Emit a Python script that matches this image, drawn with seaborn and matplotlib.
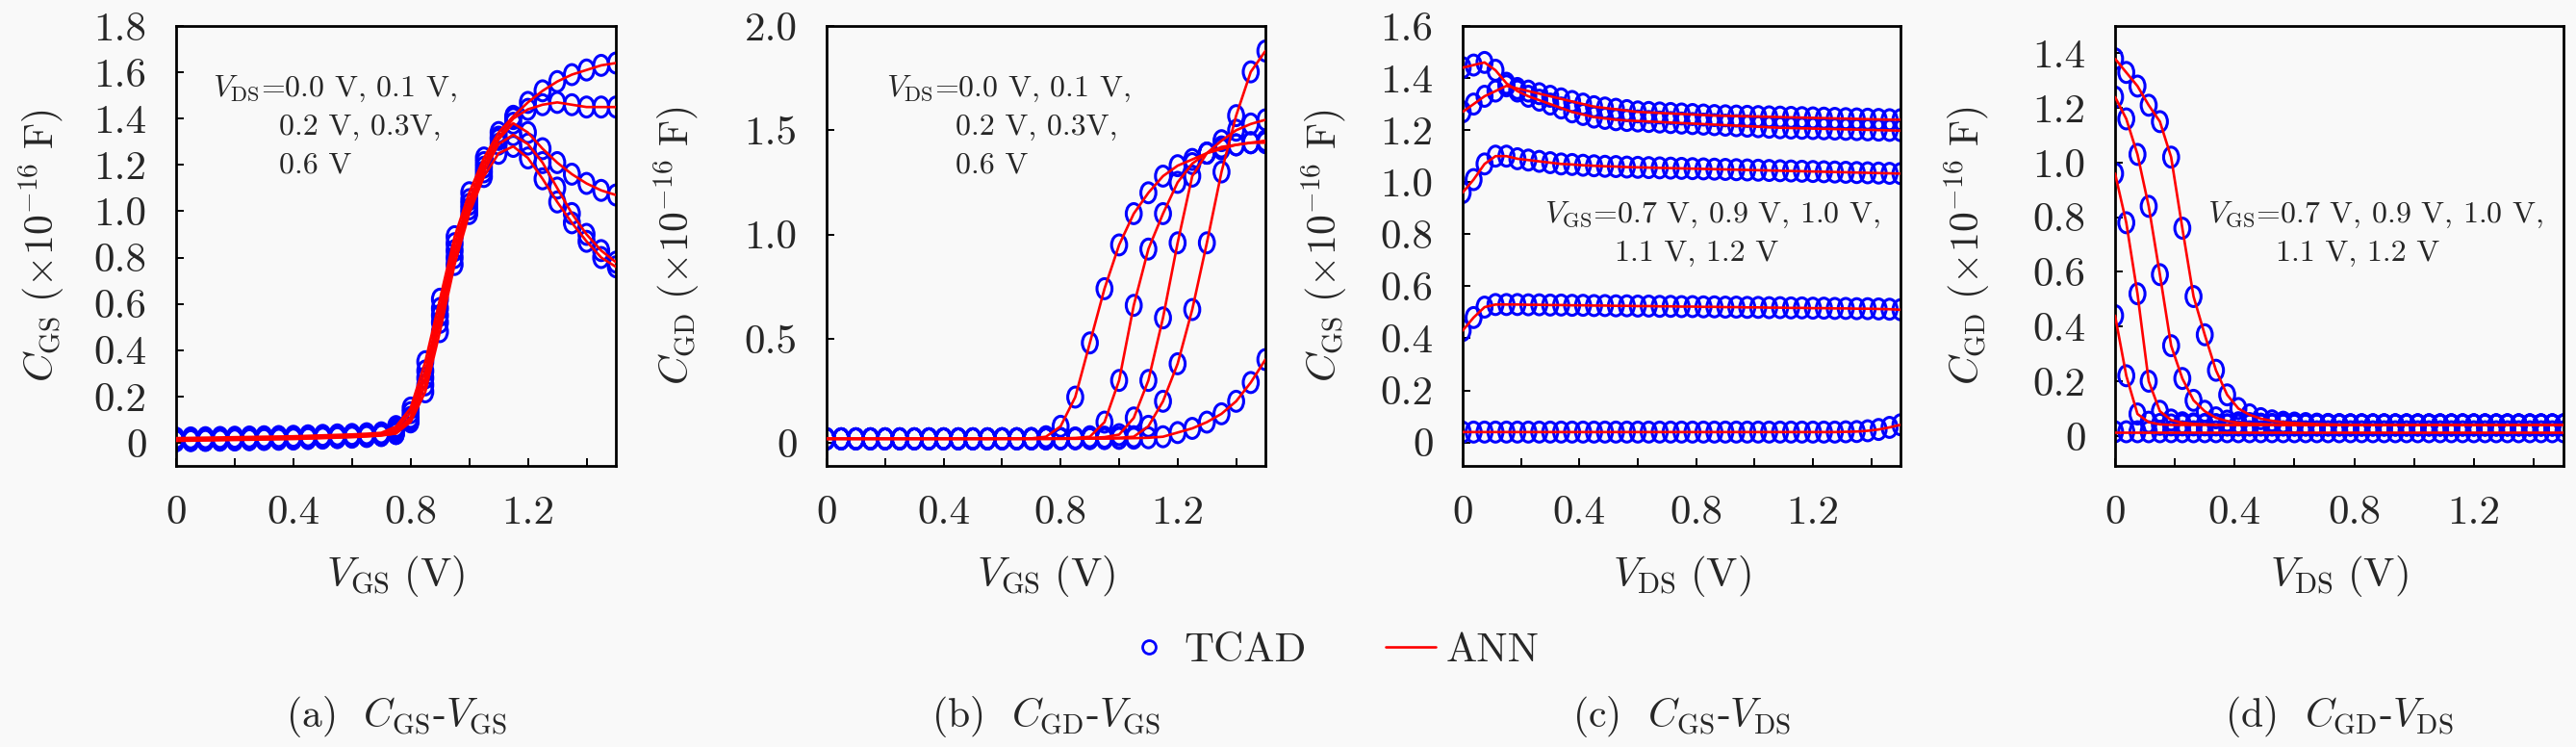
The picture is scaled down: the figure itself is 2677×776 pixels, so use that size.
import numpy as np
import pandas as pd
import seaborn as sns
import matplotlib.pyplot as plt
from matplotlib.path import Path
from matplotlib.lines import Line2D

sns.set_theme(style="white")
plt.rcParams["font.family"] = "serif"
plt.rcParams["font.serif"] = ["cmr10", "DejaVu Serif"]
plt.rcParams["mathtext.fontset"] = "cm"
plt.rcParams["axes.formatter.use_mathtext"] = True

# ---------------- data ----------------
# (a) C_GS vs V_GS, one curve per V_DS
vgs_ab = [0.0, 0.05, 0.1, 0.15, 0.2, 0.25, 0.3, 0.35, 0.4, 0.45, 0.5, 0.55, 0.6, 0.65, 0.7,
          0.75, 0.8, 0.85, 0.9, 0.95, 1.0, 1.05, 1.1, 1.15, 1.2, 1.25, 1.3, 1.35, 1.4, 1.45, 1.5]
vds_labels = ["0.0", "0.1", "0.2", "0.3", "0.6"]
cgs_a_00 = [0.020, 0.021, 0.022, 0.023, 0.024, 0.025, 0.026, 0.027, 0.028, 0.030, 0.032, 0.034, 0.036, 0.039, 0.043,
            0.07, 0.15, 0.35, 0.62, 0.89, 1.08, 1.23, 1.34, 1.41, 1.47, 1.52, 1.56, 1.59, 1.61, 1.63, 1.64]
cgs_a_01 = [0.015, 0.016, 0.017, 0.018, 0.019, 0.020, 0.021, 0.022, 0.023, 0.025, 0.027, 0.029, 0.031, 0.034, 0.038,
            0.06, 0.13, 0.31, 0.58, 0.86, 1.05, 1.21, 1.32, 1.40, 1.44, 1.46, 1.47, 1.46, 1.45, 1.45, 1.45]
cgs_a_02 = [0.012, 0.013, 0.014, 0.015, 0.016, 0.017, 0.018, 0.019, 0.020, 0.022, 0.024, 0.026, 0.028, 0.031, 0.035,
            0.05, 0.11, 0.28, 0.55, 0.83, 1.03, 1.19, 1.31, 1.38, 1.34, 1.27, 1.21, 1.16, 1.12, 1.09, 1.07]
cgs_a_03 = [0.010, 0.011, 0.012, 0.013, 0.014, 0.015, 0.016, 0.017, 0.018, 0.020, 0.022, 0.024, 0.026, 0.029, 0.033,
            0.04, 0.10, 0.25, 0.52, 0.80, 1.01, 1.17, 1.29, 1.33, 1.29, 1.21, 1.10, 0.99, 0.90, 0.83, 0.78]
cgs_a_06 = [0.008, 0.009, 0.010, 0.011, 0.012, 0.013, 0.014, 0.015, 0.016, 0.018, 0.020, 0.022, 0.024, 0.027, 0.031,
            0.04, 0.09, 0.22, 0.48, 0.77, 0.99, 1.15, 1.25, 1.28, 1.23, 1.14, 1.04, 0.95, 0.87, 0.80, 0.76]

# (b) C_GD vs V_GS
cgd_b_1 = [0.020, 0.020, 0.020, 0.020, 0.020, 0.020, 0.020, 0.020, 0.020, 0.020, 0.020, 0.020, 0.021, 0.021, 0.022,
           0.03, 0.08, 0.22, 0.48, 0.74, 0.95, 1.10, 1.20, 1.28, 1.33, 1.36, 1.39, 1.41, 1.43, 1.44, 1.45]
cgd_b_2 = [0.020, 0.020, 0.020, 0.020, 0.020, 0.020, 0.020, 0.020, 0.020, 0.020, 0.020, 0.020, 0.020, 0.020, 0.020,
           0.021, 0.022, 0.024, 0.03, 0.10, 0.30, 0.66, 0.93, 1.10, 1.25, 1.34, 1.39, 1.42, 1.43, 1.44, 1.44]
cgd_b_3 = [0.020, 0.020, 0.020, 0.020, 0.020, 0.020, 0.020, 0.020, 0.020, 0.020, 0.020, 0.020, 0.020, 0.020, 0.020,
           0.020, 0.021, 0.022, 0.024, 0.028, 0.04, 0.12, 0.30, 0.60, 0.96, 1.28, 1.39, 1.45, 1.50, 1.53, 1.55]
cgd_b_4 = [0.020, 0.020, 0.020, 0.020, 0.020, 0.020, 0.020, 0.020, 0.020, 0.020, 0.020, 0.020, 0.020, 0.020, 0.020,
           0.020, 0.020, 0.021, 0.022, 0.023, 0.025, 0.03, 0.08, 0.20, 0.38, 0.64, 0.96, 1.30, 1.57, 1.78, 1.88]
cgd_b_5 = [0.020, 0.020, 0.020, 0.020, 0.020, 0.020, 0.020, 0.020, 0.020, 0.020, 0.020, 0.020, 0.020, 0.020, 0.020,
           0.020, 0.020, 0.020, 0.021, 0.021, 0.022, 0.023, 0.025, 0.03, 0.05, 0.07, 0.10, 0.14, 0.20, 0.29, 0.40]

# (c) C_GS vs V_DS, one curve per V_GS
vds_cd = [0.0, 0.0375, 0.075, 0.1125, 0.15, 0.1875, 0.225, 0.2625, 0.3, 0.3375, 0.375, 0.4125, 0.45, 0.4875,
          0.525, 0.5625, 0.6, 0.6375, 0.675, 0.7125, 0.75, 0.7875, 0.825, 0.8625, 0.9, 0.9375, 0.975, 1.0125,
          1.05, 1.0875, 1.125, 1.1625, 1.2, 1.2375, 1.275, 1.3125, 1.35, 1.3875, 1.425, 1.4625, 1.5]
vgs_labels = ["0.7", "0.9", "1.0", "1.1", "1.2"]
cgs_c_07 = [0.040, 0.040, 0.040, 0.040, 0.040, 0.040, 0.040, 0.040, 0.040, 0.040, 0.040, 0.040, 0.040, 0.040,
            0.040, 0.040, 0.040, 0.040, 0.040, 0.040, 0.040, 0.040, 0.040, 0.040, 0.040, 0.040, 0.040, 0.040,
            0.040, 0.040, 0.040, 0.040, 0.040, 0.040, 0.040, 0.041, 0.042, 0.045, 0.050, 0.058, 0.068]
cgs_c_09 = [0.43, 0.48, 0.52, 0.53, 0.530, 0.530, 0.529, 0.529, 0.528, 0.528, 0.527, 0.527, 0.526, 0.526,
            0.525, 0.525, 0.524, 0.524, 0.523, 0.523, 0.522, 0.522, 0.521, 0.521, 0.520, 0.520, 0.519, 0.519,
            0.518, 0.518, 0.517, 0.517, 0.516, 0.516, 0.515, 0.515, 0.514, 0.514, 0.513, 0.512, 0.510]
cgs_c_10 = [0.96, 1.01, 1.07, 1.10, 1.10, 1.09, 1.085, 1.08, 1.075, 1.07, 1.068, 1.065, 1.063, 1.061,
            1.060, 1.058, 1.057, 1.056, 1.055, 1.054, 1.053, 1.052, 1.051, 1.050, 1.049, 1.048, 1.047, 1.046,
            1.045, 1.044, 1.043, 1.042, 1.041, 1.040, 1.039, 1.038, 1.037, 1.036, 1.035, 1.034, 1.033]
cgs_c_11 = [1.27, 1.30, 1.33, 1.35, 1.37, 1.36, 1.35, 1.34, 1.33, 1.32, 1.31, 1.30, 1.29, 1.285,
            1.280, 1.275, 1.270, 1.268, 1.266, 1.264, 1.262, 1.260, 1.258, 1.256, 1.255, 1.254, 1.253, 1.252,
            1.251, 1.250, 1.249, 1.248, 1.247, 1.246, 1.245, 1.244, 1.243, 1.242, 1.241, 1.240, 1.240]
cgs_c_12 = [1.44, 1.45, 1.46, 1.43, 1.38, 1.35, 1.33, 1.315, 1.30, 1.285, 1.27, 1.26, 1.25, 1.245,
            1.240, 1.237, 1.235, 1.233, 1.231, 1.229, 1.227, 1.225, 1.223, 1.221, 1.219, 1.217, 1.215, 1.213,
            1.211, 1.209, 1.208, 1.207, 1.206, 1.205, 1.204, 1.203, 1.202, 1.201, 1.200, 1.199, 1.198]

# (d) C_GD vs V_DS
cgd_d_07 = [0.015, 0.015, 0.015, 0.015, 0.015, 0.015, 0.015, 0.015, 0.015, 0.015, 0.015, 0.015, 0.015, 0.015,
            0.015, 0.015, 0.015, 0.015, 0.015, 0.015, 0.015, 0.015, 0.015, 0.015, 0.015, 0.015, 0.015, 0.015,
            0.015, 0.015, 0.015, 0.015, 0.015, 0.015, 0.015, 0.015, 0.015, 0.015, 0.015, 0.015, 0.015]
cgd_d_09 = [0.44, 0.22, 0.08, 0.05, 0.042, 0.040, 0.040, 0.040, 0.040, 0.040, 0.040, 0.040, 0.040, 0.040,
            0.040, 0.040, 0.040, 0.040, 0.040, 0.040, 0.040, 0.040, 0.040, 0.040, 0.040, 0.040, 0.040, 0.040,
            0.040, 0.040, 0.040, 0.040, 0.040, 0.040, 0.040, 0.040, 0.040, 0.040, 0.040, 0.040, 0.040]
cgd_d_10 = [0.96, 0.78, 0.52, 0.20, 0.09, 0.058, 0.048, 0.044, 0.042, 0.041, 0.040, 0.040, 0.040, 0.040,
            0.040, 0.040, 0.040, 0.040, 0.040, 0.040, 0.040, 0.040, 0.040, 0.040, 0.040, 0.040, 0.040, 0.040,
            0.040, 0.040, 0.040, 0.040, 0.040, 0.040, 0.040, 0.040, 0.040, 0.040, 0.040, 0.040, 0.040]
cgd_d_11 = [1.24, 1.16, 1.03, 0.84, 0.59, 0.33, 0.21, 0.13, 0.09, 0.066, 0.054, 0.048, 0.045, 0.043,
            0.042, 0.041, 0.040, 0.040, 0.040, 0.040, 0.040, 0.040, 0.040, 0.040, 0.040, 0.040, 0.040, 0.040,
            0.040, 0.040, 0.040, 0.040, 0.040, 0.040, 0.040, 0.040, 0.040, 0.040, 0.040, 0.040, 0.040]
cgd_d_12 = [1.38, 1.33, 1.28, 1.21, 1.15, 1.02, 0.76, 0.51, 0.37, 0.24, 0.15, 0.10, 0.077, 0.063,
            0.055, 0.050, 0.047, 0.045, 0.043, 0.042, 0.041, 0.040, 0.040, 0.040, 0.040, 0.040, 0.040, 0.040,
            0.040, 0.040, 0.040, 0.040, 0.040, 0.040, 0.040, 0.040, 0.040, 0.040, 0.040, 0.040, 0.040]


def long_df(x, curves, labels):
    rows = []
    for lab, ys in zip(labels, curves):
        rows.append(pd.DataFrame({"x": x, "y": ys, "curve": lab}))
    return pd.concat(rows, ignore_index=True)


df_a = long_df(vgs_ab, [cgs_a_00, cgs_a_01, cgs_a_02, cgs_a_03, cgs_a_06], vds_labels)
df_b = long_df(vgs_ab, [cgd_b_1, cgd_b_2, cgd_b_3, cgd_b_4, cgd_b_5], vds_labels)
df_c = long_df(vds_cd, [cgs_c_07, cgs_c_09, cgs_c_10, cgs_c_11, cgs_c_12], vgs_labels)
df_d = long_df(vds_cd, [cgd_d_07, cgd_d_09, cgd_d_10, cgd_d_11, cgd_d_12], vgs_labels)

# ---------------- figure ----------------
W, H = 2677, 776
bg = "#f9f9f9"
fig = plt.figure(figsize=(W / 100, H / 100), dpi=100, facecolor=bg)

circ = Path.unit_circle()
ellipse = Path(circ.vertices * np.array([0.75, 1.0]), circ.codes)

panels = [
    # df, left px, right px, ylim, yticks, ylabels, ylabel, xlabel, label x, caption
    (df_a, 183, 640, (-0.1, 1.8), [0, 0.2, 0.4, 0.6, 0.8, 1.0, 1.2, 1.4, 1.6, 1.8],
     ["0", "0.2", "0.4", "0.6", "0.8", "1.0", "1.2", "1.4", "1.6", "1.8"],
     r"$C_{\rm GS}\ (\times 10^{-16}\ {\rm F})$", r"$V_{\rm GS}\ ({\rm V})$", -0.25,
     r"(a)  $C_{\rm GS}$-$V_{\rm GS}$"),
    (df_b, 859, 1315, (-0.11, 2.0), [0, 0.5, 1.0, 1.5, 2.0],
     ["0", "0.5", "1.0", "1.5", "2.0"],
     r"$C_{\rm GD}\ (\times 10^{-16}\ {\rm F})$", r"$V_{\rm GS}\ ({\rm V})$", -0.285,
     r"(b)  $C_{\rm GD}$-$V_{\rm GS}$"),
    (df_c, 1520, 1975, (-0.09, 1.6), [0, 0.2, 0.4, 0.6, 0.8, 1.0, 1.2, 1.4, 1.6],
     ["0", "0.2", "0.4", "0.6", "0.8", "1.0", "1.2", "1.4", "1.6"],
     r"$C_{\rm GS}\ (\times 10^{-16}\ {\rm F})$", r"$V_{\rm DS}\ ({\rm V})$", -0.26,
     r"(c)  $C_{\rm GS}$-$V_{\rm DS}$"),
    (df_d, 2198, 2664, (-0.11, 1.5), [0, 0.2, 0.4, 0.6, 0.8, 1.0, 1.2, 1.4],
     ["0", "0.2", "0.4", "0.6", "0.8", "1.0", "1.2", "1.4"],
     r"$C_{\rm GD}\ (\times 10^{-16}\ {\rm F})$", r"$V_{\rm DS}\ ({\rm V})$", -0.275,
     r"(d)  $C_{\rm GD}$-$V_{\rm DS}$"),
]

top_px, bot_px = 27, 484
axes = []
for df, lpx, rpx, ylim, yt, ytl, ylab, xlab, lx, cap in panels:
    ax = fig.add_axes([lpx / W, (H - bot_px) / H, (rpx - lpx) / W, (bot_px - top_px) / H])
    ax.set_facecolor(bg)
    sns.scatterplot(data=df, x="x", y="y", marker=ellipse, s=225, facecolors="none",
                    edgecolor="blue", linewidth=2.2, ax=ax, legend=False, zorder=2)
    sns.lineplot(data=df, x="x", y="y", units="curve", estimator=None, sort=False,
                 color="red", linewidth=1.9, ax=ax, legend=False, zorder=3)
    ax.set_xlim(0, 1.5)
    ax.set_ylim(*ylim)
    ax.set_xticks([0, 0.4, 0.8, 1.2])
    ax.set_xticklabels(["0", "0.4", "0.8", "1.2"])
    ax.set_xticks([0.2, 0.6, 1.0, 1.4], minor=True)
    ax.set_yticks(yt)
    ax.set_yticklabels(ytl)
    ax.tick_params(which="both", direction="in", length=6, width=1.4, color="black",
                   labelsize=31, pad=22, bottom=True, left=True, top=False, right=False)
    for sp in ax.spines.values():
        sp.set_color("black")
        sp.set_linewidth(2.0)
    ax.set_xlabel(xlab, fontsize=31)
    ax.set_ylabel(ylab, fontsize=30)
    ax.xaxis.set_label_coords(0.5, -0.20)
    ax.yaxis.set_label_coords(lx, 0.5)
    cx = ((lpx + rpx) / 2) / W
    fig.text(cx, 0.040, cap, ha="center", va="center", fontsize=30)
    axes.append(ax)

ann = 23
ax_a, ax_b, ax_c, ax_d = axes
ax_a.text(0.083, 0.858, r"$V_{\rm DS}$=0.0 V, 0.1 V,", transform=ax_a.transAxes, fontsize=ann, va="center")
ax_a.text(0.234, 0.770, "0.2 V, 0.3V,", transform=ax_a.transAxes, fontsize=ann, va="center")
ax_a.text(0.234, 0.683, "0.6 V", transform=ax_a.transAxes, fontsize=ann, va="center")
ax_b.text(0.136, 0.858, r"$V_{\rm DS}$=0.0 V, 0.1 V,", transform=ax_b.transAxes, fontsize=ann, va="center")
ax_b.text(0.294, 0.770, "0.2 V, 0.3V,", transform=ax_b.transAxes, fontsize=ann, va="center")
ax_b.text(0.294, 0.683, "0.6 V", transform=ax_b.transAxes, fontsize=ann, va="center")
ax_c.text(0.187, 0.571, r"$V_{\rm GS}$=0.7 V, 0.9 V, 1.0 V,", transform=ax_c.transAxes, fontsize=ann, va="center")
ax_c.text(0.347, 0.484, "1.1 V, 1.2 V", transform=ax_c.transAxes, fontsize=ann, va="center")
ax_d.text(0.206, 0.571, r"$V_{\rm GS}$=0.7 V, 0.9 V, 1.0 V,", transform=ax_d.transAxes, fontsize=ann, va="center")
ax_d.text(0.358, 0.484, "1.1 V, 1.2 V", transform=ax_d.transAxes, fontsize=ann, va="center")

handles = [
    Line2D([], [], marker="o", linestyle="none", markerfacecolor="none",
           markeredgecolor="blue", markersize=10, markeredgewidth=2.0),
    Line2D([], [], color="red", linewidth=1.9),
]
fig.legend(handles, ["TCAD", "ANN"], loc="center", bbox_to_anchor=(0.517, 0.129), ncol=2,
           frameon=False, fontsize=31, handlelength=1.2, handletextpad=0.25, columnspacing=1.9)

fig.savefig("out.png", dpi=100, facecolor=bg)
